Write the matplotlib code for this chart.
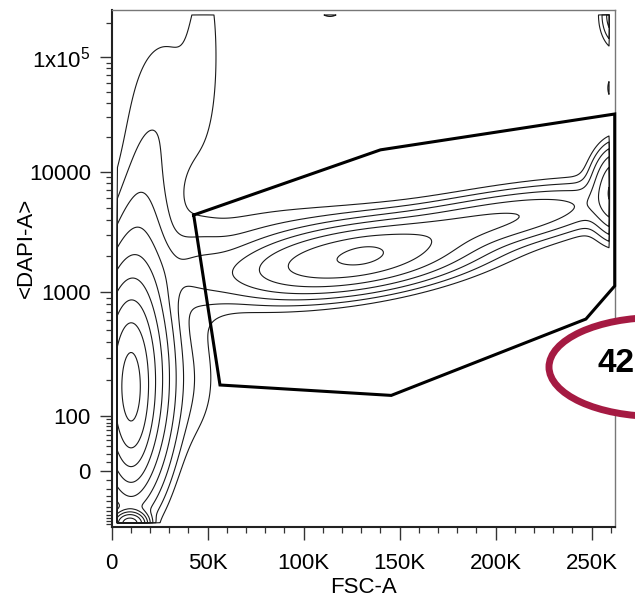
import numpy as np
import matplotlib
matplotlib.use('Agg')
import matplotlib.pyplot as plt
from matplotlib.patches import Ellipse
from matplotlib.ticker import FixedLocator, FixedFormatter

plt.rcParams['font.family'] = ['Liberation Sans', 'DejaVu Sans']
plt.rcParams['mathtext.fontset'] = 'custom'
plt.rcParams['mathtext.rm'] = 'Liberation Sans'

# ---------------- data ----------------
x_major = [0, 50000, 100000, 150000, 200000, 250000]
x_labels = ['0', '50K', '100K', '150K', '200K', '250K']
x_minor = list(range(0, 262145, 10000))
y_major = [0, 100, 1000, 10000, 100000]
y_labels = ['0', '100', '1000', '10000', r'$\mathregular{1x10^5}$']
y_minor = ([-v for v in range(10, 101, 10)] + list(range(10, 100, 10)) +
           [m * 10 ** k for k in (2, 3, 4, 5) for m in range(2, 10)])

# gate polygon (FSC-A, DAPI-A)
gate_fsc = [42700, 140000, 262000, 262000, 247000, 145600, 56400]
gate_dapi = [4370, 15500, 31900, 1130, 612, 149, 181]
gate_percent = '42'

# cell populations used to build the density contours
#            core  col2  colUp colTop broad finger brA  brB  pile
pop_fsc_k = [10.1, 10.0, 13.7, 16.3, 27.8, 48.6, 43.4, 38.2, 9.5,
             # main  bump   right  band   halo  top-speck
             126.7, 130.9, 197.0, 150.2, 87.6, 113.7,
             # right population, top-right corner, right edge
             263.7, 263.7, 262.1]
pop_dapi = [164, 199, 1535, 8500, 31300, 157500, 1596, 199, -99,
            1930, 2044, 3900, 2473, 2473, 251800,
            6920, 236800, 53860]
pop_sd_major = [40, 55, 55, 45, 70, 70, 25, 50, 8,
                58, 14, 70, 170, 80, 9,
                22, 18, 10]
pop_sd_minor = [10, 19, 18, 14, 30, 12, 20, 25, 6,
                16, 7, 13, 30, 32, 5,
                13, 10, 6]
pop_angle = [90, 90, 90, 90, 90, 90, 0, 90, 0,
             8, 10, 10, 12, 0, 0,
             90, 90, 90]
pop_peak = [0.35, 0.25, 0.016, 0.002, 0.0048, 0.0035, 0.006, 0.005, 0.35,
            0.12, 0.03, 0.035, 0.005, 0.004, 0.0045,
            0.08, 0.02, 0.006]

# ---------------- biexponential-like display scale ----------------
A_anc = np.array([-110., 0., 100., 1e3, 1e4, 1e5, 262144.])
P_anc = np.array([0.3, 55.3, 110.3, 234.5, 355.3, 469.7, 517.0])
W = 30.0
T_anc = np.arcsinh(A_anc / W)


def interp_ext(x, xp, fp):
    x = np.asarray(x, dtype=float)
    y = np.interp(x, xp, fp)
    s0 = (fp[1] - fp[0]) / (xp[1] - xp[0])
    s1 = (fp[-1] - fp[-2]) / (xp[-1] - xp[-2])
    y = np.where(x < xp[0], fp[0] + (x - xp[0]) * s0, y)
    y = np.where(x > xp[-1], fp[-1] + (x - xp[-1]) * s1, y)
    return y


def fwd(v):
    return interp_ext(np.arcsinh(np.asarray(v, dtype=float) / W), T_anc, P_anc)


def inv(p):
    t = interp_ext(p, P_anc, T_anc)
    with np.errstate(over='ignore'):
        return W * np.sinh(np.clip(t, -700, 700))


# ---------------- density model ----------------
KX = 1.92  # display units per 1K FSC
xs_k = np.linspace(3.0, 259.0, 340)
ps = np.linspace(4.0, 512.0, 340)
U, V = np.meshgrid(xs_k * KX, ps)
Z = np.zeros_like(U)
for cx, cy, sa, sb, ang, pk in zip(pop_fsc_k, pop_dapi, pop_sd_major,
                                    pop_sd_minor, pop_angle, pop_peak):
    u0 = cx * KX
    v0 = float(fwd(cy))
    th = np.deg2rad(ang)
    du, dv = U - u0, V - v0
    a = du * np.cos(th) + dv * np.sin(th)
    b = -du * np.sin(th) + dv * np.cos(th)
    Z += pk * np.exp(-0.5 * ((a / sa) ** 2 + (b / sb) ** 2))

# zero-pad so contours close along the plot edges
Zp = np.pad(Z, 1, constant_values=0.0)
xs_p = np.concatenate([[xs_k[0] - 0.3], xs_k, [xs_k[-1] + 0.3]]) * 1000
ps_p = np.concatenate([[ps[0] - 0.3], ps, [ps[-1] + 0.3]])
Xg, Yg = np.meshgrid(xs_p, inv(ps_p))
levels = np.geomspace(0.003, 0.45, 9)

# ---------------- figure ----------------
fig = plt.figure(figsize=(6.35, 6.13), dpi=100)
ax = fig.add_axes([111.7 / 635, 1 - 526.7 / 613, (615 - 111.7) / 635, (526.7 - 10) / 613])
ax.set_yscale('function', functions=(fwd, inv))
ax.set_xlim(0, 262144)
ax.set_ylim(float(inv(0.0)), float(inv(517.0)))

ax.contour(Xg, Yg, Zp, levels=levels, colors='#1a1a1a', linewidths=0.8)

ax.plot(gate_fsc + gate_fsc[:1], gate_dapi + gate_dapi[:1], color='black',
        lw=2.2, solid_joinstyle='miter', clip_on=False, zorder=5)

ax.xaxis.set_major_locator(FixedLocator(x_major))
ax.xaxis.set_major_formatter(FixedFormatter(x_labels))
ax.xaxis.set_minor_locator(FixedLocator(x_minor))
ax.yaxis.set_major_locator(FixedLocator(y_major))
ax.yaxis.set_major_formatter(FixedFormatter(y_labels))
ax.yaxis.set_minor_locator(FixedLocator(y_minor))

ax.tick_params(which='major', length=9, width=1.0, color='#333333',
               labelsize=16, labelcolor='black')
ax.tick_params(which='minor', length=4, width=0.9, color='#333333')
ax.tick_params(axis='x', which='major', pad=10)
ax.tick_params(axis='y', which='major', pad=6)

for side in ('left', 'bottom'):
    ax.spines[side].set_color('#222222')
    ax.spines[side].set_linewidth(1.5)
for side in ('top', 'right'):
    ax.spines[side].set_color('#777777')
    ax.spines[side].set_linewidth(1.0)

ax.set_xlabel('FSC-A', fontsize=16, labelpad=2)
ax.set_ylabel('<DAPI-A>', fontsize=16)
ax.yaxis.set_label_coords(-0.148, 0.54)

ell = Ellipse((657 / 635, 1 - 367 / 613), 2 * 108 / 635, 2 * 49.5 / 613,
              transform=fig.transFigure, facecolor='white', edgecolor='#A51A42',
              lw=5.0, zorder=10, clip_on=False)
fig.patches.append(ell)
fig.text(598 / 635, 1 - 363 / 613, gate_percent, fontsize=24, fontweight='bold',
         ha='left', va='center', color='black', zorder=11)

fig.savefig('out.png', dpi=100)
